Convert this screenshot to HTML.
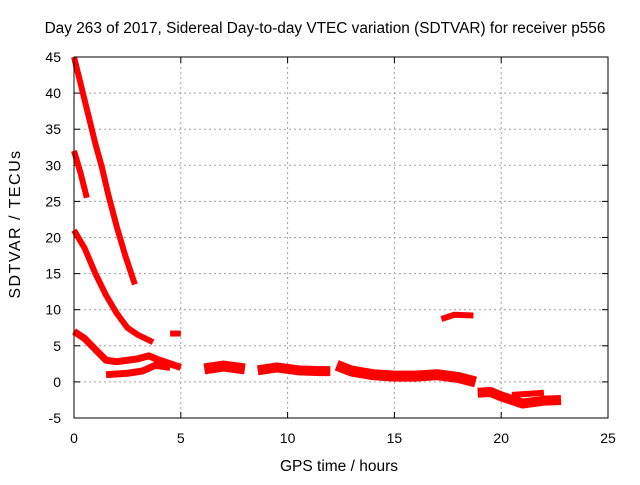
<!DOCTYPE html>
<html><head><meta charset="utf-8"><style>
body{margin:0;background:#fff}
svg text{font-family:"Liberation Sans",sans-serif;font-size:14px;fill:#000}
</style></head><body>
<svg id="chart" width="640" height="480" viewBox="0 0 640 480" xmlns="http://www.w3.org/2000/svg">
<text x="325" y="33" text-anchor="middle" style="font-size:15.4px">Day 263 of 2017, Sidereal Day-to-day VTEC variation (SDTVAR) for receiver p556</text>
<g id="grid"></g>
<g id="ticks"></g>
<g id="series"></g>
<rect x="74" y="57" width="534" height="361" fill="none" stroke="#000" stroke-width="1"/>
<text x="339" y="471" text-anchor="middle" style="font-size:15.5px">GPS time / hours</text>
<text transform="translate(20,224) rotate(-90)" text-anchor="middle" style="font-size:16px;letter-spacing:1.5px">SDTVAR / TECUs</text>
</svg>
<script>
const xTicks=[0,5,10,15,20,25];
const yTicks=[-5,0,5,10,15,20,25,30,35,40,45];
const trackA=[[0,45],[0.5,39],[1,33],[1.3,29.8],[1.6,26],[2,21.5],[2.4,17.5],[2.85,13.5]];
const trackB=[[0,32],[0.3,29],[0.6,25.5]];
const trackC=[[0,21],[0.5,18.5],[1,15],[1.5,12],[2,9.5],[2.5,7.5],[3,6.5],[3.7,5.5]];
const trackD=[[0,7],[0.5,6],[1,4.5],[1.5,3],[2,2.8],[3,3.2],[3.5,3.6],[4,3],[4.5,2.5],[5,2]];
const trackD2=[[1.5,1],[2.5,1.2],[3.2,1.5],[3.8,2.3],[4.5,2]];
const trackE=[[4.5,6.7],[5,6.7]];
const trackF=[[6.1,1.8],[7,2.2],[8,1.8]];
const trackG=[[8.6,1.6],[9.5,2],[10.5,1.6],[11.5,1.5],[12,1.5]];
const trackH=[[12.3,2.3],[13,1.5],[14,1],[15,0.8],[16,0.8],[17,1],[18,0.6],[18.8,0]];
const trackI=[[18.9,-1.5],[19.5,-1.4],[20,-2],[21,-3],[22,-2.6],[22.8,-2.5]];
const trackI2=[[20.5,-1.8],[21.5,-1.6],[22,-1.5]];
const trackJ=[[17.2,8.7],[17.8,9.3],[18.7,9.2]];
const tracks=[trackA,trackB,trackC,trackD,trackD2,trackE,trackF,trackG,trackH,trackI,trackI2,trackJ];
const widths=[6,6,6,7,7,6,11,10,11,10,6,6];
const NS="http://www.w3.org/2000/svg";
const X0=74,X1=608,Y0=418,Y1=57;
function sx(t){return X0+(t-0)/(25-0)*(X1-X0);}
function sy(v){return Y0-(v+5)/(45+5)*(Y0-Y1);}
const grid=document.getElementById('grid'),ticks=document.getElementById('ticks'),ser=document.getElementById('series');
function mk(tag,attrs,parent){const e=document.createElementNS(NS,tag);for(const k in attrs)e.setAttribute(k,attrs[k]);parent.appendChild(e);return e;}
xTicks.forEach(t=>{
 const x=sx(t);
 if(t>0&&t<25){const g=mk('line',{x1:x,x2:x,y1:Y1,y2:Y0,stroke:'#a0a0a0','stroke-dasharray':'2,3'},grid);
 
 }
 const a=mk('line',{x1:x,x2:x,y1:Y0,y2:Y0-6,stroke:'#000'},ticks);
 
 
 const b=mk('line',{x1:x,x2:x,y1:Y1,y2:Y1+6,stroke:'#000'},ticks);
 
 
 const l=mk('text',{x:x,y:443,'text-anchor':'middle'},ticks);l.textContent=t;
 
 
});
yTicks.forEach(v=>{
 const y=sy(v);
 if(v>-5&&v<45){const g=mk('line',{x1:X0,x2:X1,y1:y,y2:y,stroke:'#a0a0a0','stroke-dasharray':'2,3'},grid);
 
 }
 const a=mk('line',{x1:X0,x2:X0+6,y1:y,y2:y,stroke:'#000'},ticks);
 
 
 const b=mk('line',{x1:X1,x2:X1-6,y1:y,y2:y,stroke:'#000'},ticks);
 
 
 const l=mk('text',{x:61,y:y+5,'text-anchor':'end'},ticks);l.textContent=v;
 
 
});
tracks.forEach((tr,i)=>{
 const p=mk('polyline',{points:tr.map(d=>sx(d[0])+','+sy(d[1])).join(' '),fill:'none',stroke:'#ff0000','stroke-width':widths[i],'stroke-linejoin':'round','stroke-linecap':'butt'},ser);
 
 
});
</script>
</body></html>
